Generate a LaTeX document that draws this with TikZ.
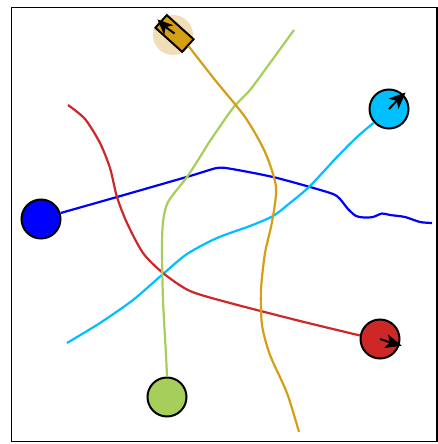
\documentclass[tikz,border=0pt]{standalone}
\definecolor{tblue}{RGB}{0,0,255}
\definecolor{tcyan}{RGB}{0,191,255}
\definecolor{tred}{RGB}{205,39,39}
\definecolor{tgreen}{RGB}{166,206,90}
\definecolor{tgold}{RGB}{214,158,20}
\definecolor{tbeige}{RGB}{240,222,182}
\begin{document}
\begin{tikzpicture}[x=1pt,y=-1pt,
  agent/.style={circle,draw=black,line width=2pt,minimum size=39pt,inner sep=0pt},
  traj/.style={line width=2.2pt},
  shaft/.style={line width=2pt},
  headfill/.style={fill=black,draw=black,line width=0.6pt,line join=miter}]
\useasboundingbox (0,0) rectangle (438,444);
\draw[line width=1.6pt] (11.5,7.5) rectangle (436.8,441.3);
% agents
\node[agent,fill=tblue] (bluec) at (41,219) {};
\node[agent,fill=tcyan] (cyanc) at (389,109) {};
\node[agent,fill=tred] (redc) at (380,339) {};
\node[agent,fill=tgreen] (greenc) at (167,397) {};
\fill[tbeige] (173,35) circle (20);
\node[draw=black,fill=tgold,line width=2pt,minimum width=36pt,minimum height=17pt,inner sep=0pt,rotate=-42] (goldbox) at (174.5,33.5) {};
% trajectories
\draw[traj,tblue] plot[smooth,tension=0.45] coordinates {(bluec.17) (117,197) (190,176) (217,168) (232,169) (273,177) (310,187) (333,194) (340,199) (348,209) (356,216) (364,217.5) (373,217) (382,213.5) (390,215) (405,217) (420,222) (432,223)};
\draw[traj,tcyan] plot[smooth,tension=0.45] coordinates {(67,343) (100,323) (133,300) (163,274) (187,254) (217,238) (250,226) (273,216) (290,203) (310,186) (337,157) (357,137) (cyanc.222)};
\draw[traj,tred] plot[smooth,tension=0.45] coordinates {(68,105) (85,119) (100,143) (110,168) (117,197) (127,223) (143,253) (163,273) (190,291) (230,303) (300,321) (redc.170)};
\draw[traj,tgreen] plot[smooth,tension=0.45] coordinates {(greenc.north) (166,355) (163,300) (162,250) (163,222) (168,202) (187,177) (200,157) (210,141) (233,108) (250,90) (270,63) (294,30)};
\draw[traj,tgold] plot[smooth,tension=0.45] coordinates {(goldbox.east) (215,80) (245,117) (265,152) (276,187) (272,222) (265,253) (261,290) (262,325) (270,355) (287,393) (299,432)};
% headings (hand-built filled heads)
\coordinate (cyanin) at (397.0,100.5);
\draw[shaft] (cyanc.center) -- (cyanin);
\draw[headfill] (405,93) -- (398.5,108.0) -- (cyanin) -- (389.6,98.6) -- cycle;
\coordinate (redin) at (390.4,342.5);
\draw[shaft] (redc.center) -- (redin);
\draw[headfill] (401,345.5) -- (384.8,347.65) -- (redin) -- (388.4,335.15) -- cycle;
\coordinate (goldin) at (165.3,26.85);
\draw[shaft] (goldbox.center) -- (goldin);
\draw[headfill] (158,20) -- (172.3,25.2) -- (goldin) -- (164.1,34.0) -- cycle;
\end{tikzpicture}
\end{document}
